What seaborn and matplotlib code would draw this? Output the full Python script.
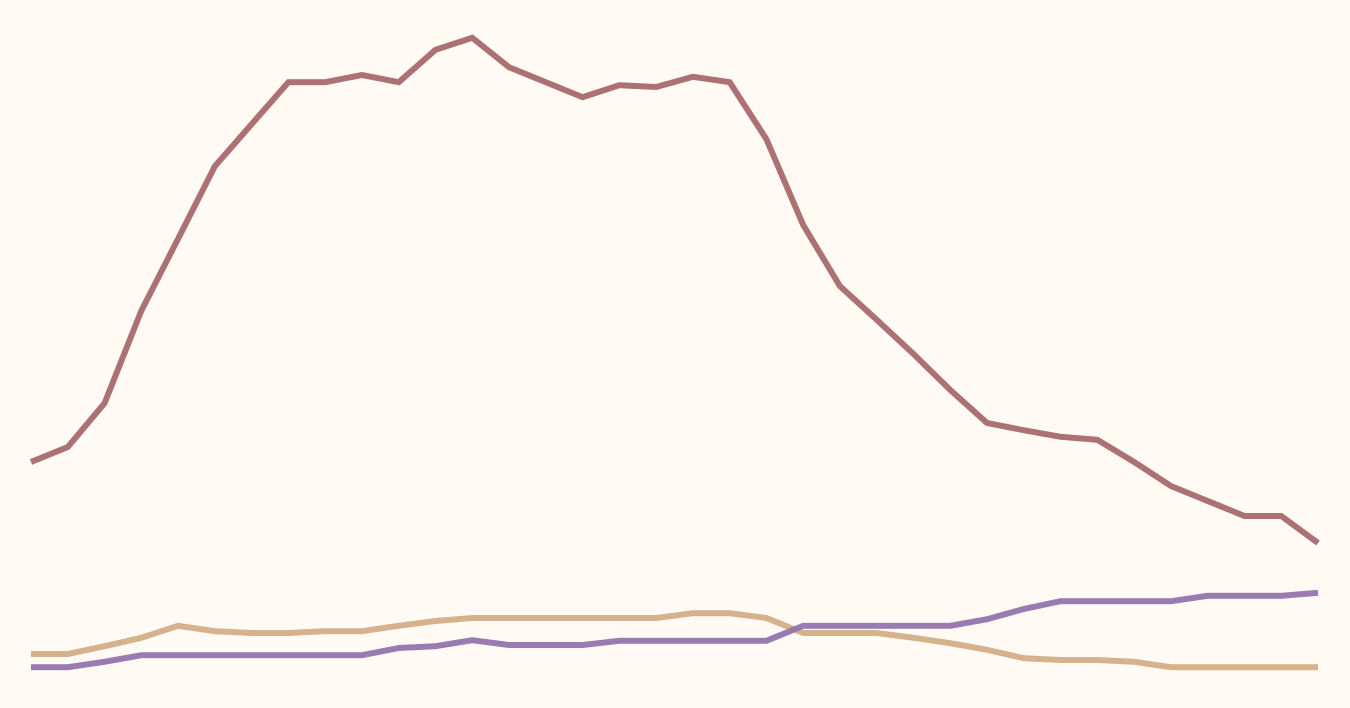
import matplotlib
matplotlib.use('Agg')
import matplotlib.pyplot as plt
import seaborn as sns
import pandas as pd

sns.set_theme(style='white')

# one point per period, 36 periods
periods = list(range(36))
red_vals = [37.0, 39.5, 46.8, 62.2, 74.2, 86.3, 93.3, 100.3, 100.3, 101.5, 100.3, 105.7,
            107.7, 102.8, 100.3, 97.8, 99.8, 99.5, 101.2, 100.3, 90.8, 76.5, 66.3, 60.7,
            55.0, 49.0, 43.5, 42.3, 41.2, 40.7, 37.0, 33.0, 30.5, 28.0, 28.0, 23.5]
tan_vals = [5.0, 5.0, 6.3, 7.7, 9.7, 8.8, 8.5, 8.5, 8.8, 8.8, 9.7, 10.5,
            11.0, 11.0, 11.0, 11.0, 11.0, 11.0, 11.8, 11.8, 11.0, 8.5, 8.5, 8.5,
            7.7, 6.8, 5.7, 4.3, 4.0, 4.0, 3.7, 2.8, 2.8, 2.8, 2.8, 2.8]
purple_vals = [2.8, 2.8, 3.7, 4.8, 4.8, 4.8, 4.8, 4.8, 4.8, 4.8, 6.0, 6.3,
               7.3, 6.5, 6.5, 6.5, 7.2, 7.2, 7.2, 7.2, 7.2, 9.7, 9.7, 9.7,
               9.7, 9.7, 10.8, 12.5, 13.8, 13.8, 13.8, 13.8, 14.7, 14.7, 14.7, 15.2]

df = pd.DataFrame({'period': periods * 3,
                   'value': red_vals + tan_vals + purple_vals,
                   'series': ['red'] * 36 + ['tan'] * 36 + ['purple'] * 36})

bg = '#fffbf4'
colors = {'red': '#a86a6b', 'tan': '#d3ae85', 'purple': '#9473ae'}

fig = plt.figure(figsize=(13.5, 7.08), dpi=100, facecolor=bg)
ax = fig.add_axes([0, 0, 1, 1], facecolor=bg)
sns.lineplot(data=df, x='period', y='value', hue='series', palette=colors,
             hue_order=['red', 'tan', 'purple'], linewidth=4.3, alpha=0.95,
             legend=False, ax=ax, solid_capstyle='butt', solid_joinstyle='miter')
ax.set_xlim(-0.843, 35.87)
ax.set_ylim(-4, 114)
ax.axis('off')
fig.savefig('out.png', dpi=100, facecolor=bg)
